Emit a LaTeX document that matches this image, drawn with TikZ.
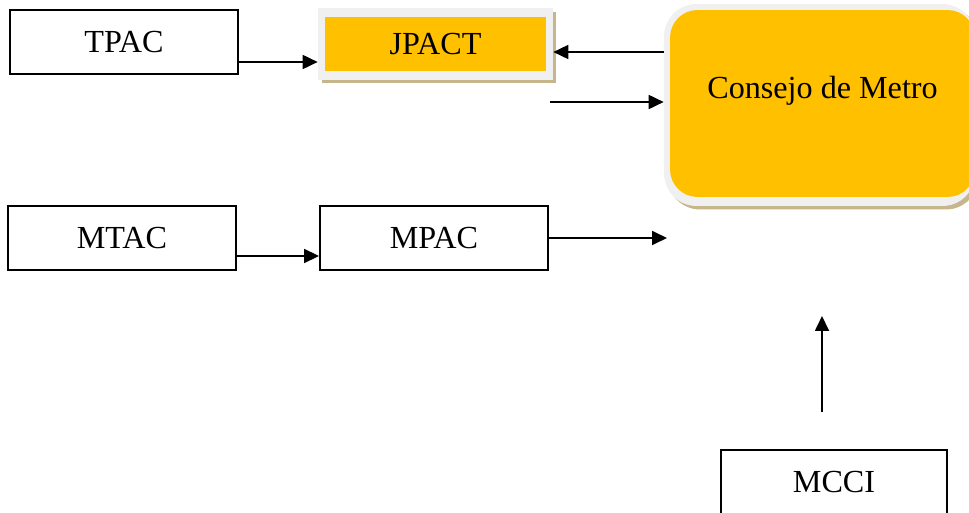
\documentclass[tikz,border=0pt]{standalone}
\usepackage{fontspec}
\setmainfont{Liberation Serif}
\usetikzlibrary{arrows.meta,shadows}
\definecolor{councilgold}{HTML}{FFC000}
\definecolor{framegray}{HTML}{F0F0F0}
\definecolor{shadowtan}{HTML}{C6B68C}

\begin{document}
\begin{tikzpicture}[
  x=0.02cm, y=-0.02cm,
  every node/.style = {font=\fontsize{18.3}{22}\selectfont},
  unit/.style = {draw, line width=1.1pt, minimum width=4.56cm, minimum height=1.28cm},
  framed/.style = {fill=framegray, drop shadow={shadow xshift=0.07cm, shadow yshift=-0.07cm, fill=shadowtan, opacity=1}},
  gold/.style = {fill=councilgold, inner sep=0pt},
  flow/.style = {line width=1pt, -{Triangle[length=0.3cm, width=0.28cm]}}
]
  \useasboundingbox (0,0) rectangle (969,513);

  % left column
  \node[unit] (tpac) at (124,42) {TPAC};
  \node[unit] (mtac) at (122,238) {MTAC};
  \node[unit] (mpac) at (434,238) {MPAC};

  % JPACT with its frame
  \node[framed, minimum width=4.7cm, minimum height=1.44cm] (jpact) at (435.5,44) {};
  \node[gold, minimum width=4.44cm, minimum height=1.1cm] (jpacttxt) at (jpact) {JPACT};

  % council
  \node[framed, rounded corners=0.65cm, minimum width=6.22cm, minimum height=4.04cm] (cm) at (819.5,105) {};
  \node[gold, rounded corners=0.55cm, minimum width=6.1cm, minimum height=3.74cm,
        label={[yshift=0.26cm]center:Consejo de Metro}] (cmfill) at (822.5,103.5) {};

  \node[unit, minimum width=4.52cm] (mcci) at (834,482) {MCCI};

  % free ends
  \coordinate (jpout) at (550,102);
  \coordinate (mpout) at (667,238);
  \coordinate (mcfoot) at (822,412);
  \coordinate (mchead) at (822,316);

  \draw[flow] ([yshift=-0.4cm]tpac.east) -- ([yshift=-0.4cm]tpac.east -| jpact.west);
  \draw[flow] ([yshift=1.06cm]cm.west) -- ([yshift=1.06cm]cm.west -| jpact.east);
  \draw[flow] (jpout) -- (jpout -| cm.west);
  \draw[flow] ([yshift=-0.36cm]mtac.east) -- ([yshift=-0.36cm]mtac.east -| mpac.west);
  \draw[flow] (mpac.east) -- (mpout);
  \draw[flow] (mcfoot) -- (mchead);
\end{tikzpicture}
\end{document}
